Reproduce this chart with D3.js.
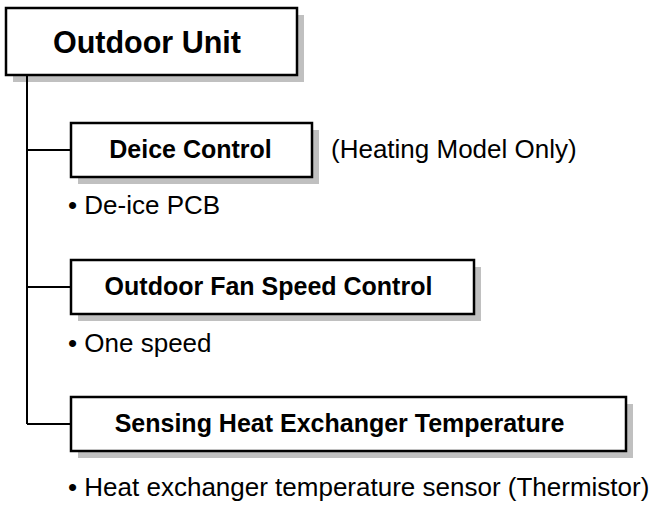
<!DOCTYPE html>
<html>
<head>
<meta charset="utf-8">
<script src="https://cdn.jsdelivr.net/npm/d3@7"></script>
<style>
  body { margin: 0; background: #fff; }
  svg { display: block; font-family: 'Liberation Sans', Arial, Helvetica, sans-serif; }
</style>
</head>
<body>
<div class="vis-container"></div>
<script>
// diagram content
const rootLabel = 'Outdoor Unit';
const branchLabels = ['Deice Control', 'Outdoor Fan Speed Control', 'Sensing Heat Exchanger Temperature'];
const branchNotes = ['(Heating Model Only)', '', ''];
const branchItems = ['De-ice PCB', 'One speed', 'Heat exchanger temperature sensor (Thermistor)'];

document.addEventListener('DOMContentLoaded', () => {
  buildTree();
});

function buildTree() {
  const width = 667;
  const height = 506;
  const shadow = 7;
  const trunkX = 27;
  const boxLeft = 71;
  const boxHeight = 54;
  // layout tweaks per branch
  const boxWidths = [241, 403, 555];
  const labelShift = [-1, -4, -9];
  const itemGap = [64, 65, 72];

  const svg = d3.select('.vis-container').append('svg')
    .attr('width', width)
    .attr('height', height);

  // vertical placement of each branch (connector line y)
  const y = d3.scalePoint()
    .domain(branchLabels)
    .range([150, 424]);

  // root box
  const root = svg.append('g').attr('transform', 'translate(6, 8)');
  root.append('rect')
    .attr('x', shadow).attr('y', shadow)
    .attr('width', 291).attr('height', 67)
    .attr('fill', '#c0c0c0');
  root.append('rect')
    .attr('width', 291).attr('height', 67)
    .attr('fill', '#fff')
    .attr('stroke', '#000')
    .attr('stroke-width', 2.5);
  root.append('text')
    .attr('x', 141).attr('y', 45)
    .attr('text-anchor', 'middle')
    .attr('font-weight', 'bold')
    .attr('font-size', 30.5)
    .text(rootLabel);

  // trunk
  svg.append('line')
    .attr('x1', trunkX).attr('x2', trunkX)
    .attr('y1', 75).attr('y2', y(branchLabels[branchLabels.length - 1]))
    .attr('stroke', '#000')
    .attr('stroke-width', 2);

  const branch = svg.selectAll('.branch')
    .data(branchLabels)
    .enter().append('g')
      .attr('class', 'branch');

  branch.append('line')
    .attr('x1', trunkX).attr('x2', boxLeft)
    .attr('y1', d => y(d)).attr('y2', d => y(d))
    .attr('stroke', '#000')
    .attr('stroke-width', 2);

  branch.append('rect')
    .attr('x', boxLeft + shadow)
    .attr('y', d => y(d) - boxHeight / 2 + shadow)
    .attr('width', (d, i) => boxWidths[i])
    .attr('height', boxHeight)
    .attr('fill', '#c0c0c0');

  branch.append('rect')
    .attr('x', boxLeft)
    .attr('y', d => y(d) - boxHeight / 2)
    .attr('width', (d, i) => boxWidths[i])
    .attr('height', boxHeight)
    .attr('fill', '#fff')
    .attr('stroke', '#000')
    .attr('stroke-width', 2.5);

  branch.append('text')
    .attr('x', (d, i) => boxLeft + boxWidths[i] / 2 + labelShift[i])
    .attr('y', d => y(d) + 8)
    .attr('text-anchor', 'middle')
    .attr('font-weight', 'bold')
    .attr('font-size', 25)
    .text(d => d);

  branch.append('text')
    .attr('x', (d, i) => boxLeft + boxWidths[i] + 19)
    .attr('y', d => y(d) + 8)
    .attr('font-size', 26)
    .text((d, i) => branchNotes[i]);

  branch.append('text')
    .attr('x', 68)
    .attr('y', (d, i) => y(d) + itemGap[i])
    .attr('font-size', 26)
    .text((d, i) => '\u2022 ' + branchItems[i]);
}
</script>
</body>
</html>
